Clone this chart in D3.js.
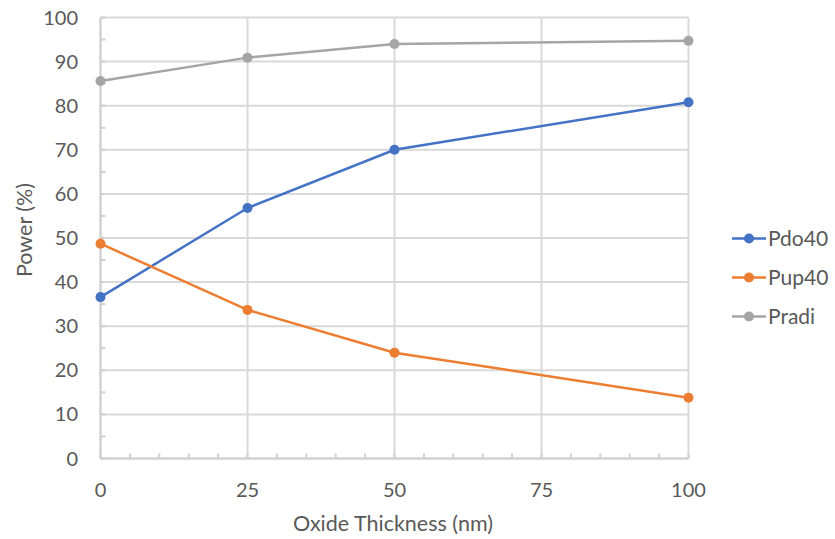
<!DOCTYPE html>
<html>
<head>
<meta charset="utf-8">
<script src="https://cdn.jsdelivr.net/npm/d3@7"></script>
<style>
  html, body { margin: 0; padding: 0; background: #fff; }
  svg { display: block; }
  text { font-family: Lato, "Open Sans", sans-serif; fill: #595959; }
</style>
</head>
<body>
<svg id="chart" width="835" height="539"></svg>
<script>
const thickness = [0, 25, 50, 100];
const pdo40 = [36.6, 56.8, 70, 80.8];
const pup40 = [48.7, 33.7, 24, 13.8];
const pradi = [85.6, 90.9, 94, 94.7];
const seriesNames = ["Pdo40", "Pup40", "Pradi"];
const seriesValues = [pdo40, pup40, pradi];
const seriesColors = ["#4472C4", "#ED7D31", "#A5A5A5"];
const xTicks = [0, 25, 50, 75, 100];
const yTicks = [0, 10, 20, 30, 40, 50, 60, 70, 80, 90, 100];
const xMinor = d3.range(0, 101, 5);
const yMinor = d3.range(0, 101, 5);

const svg = d3.select("#chart");
const pLeft = 100.5, pRight = 688.5, pTop = 17.5, pBottom = 458.5;
const x = d3.scaleLinear().domain([0, 100]).range([pLeft, pRight]);
const y = d3.scaleLinear().domain([0, 100]).range([pBottom, pTop]);
const gridColor = "#d9d9d9";

// gridlines
svg.append("g").selectAll("line").data(yTicks).join("line")
  .attr("x1", pLeft).attr("x2", pRight)
  .attr("y1", d => y(d)).attr("y2", d => y(d))
  .attr("stroke", gridColor).attr("stroke-width", 2);
svg.append("g").selectAll("line").data(xTicks).join("line")
  .attr("y1", pTop).attr("y2", pBottom)
  .attr("x1", d => x(d)).attr("x2", d => x(d))
  .attr("stroke", gridColor).attr("stroke-width", 2);

// minor ticks (inside)
svg.append("g").selectAll("line").data(xMinor).join("line")
  .attr("x1", d => x(d)).attr("x2", d => x(d))
  .attr("y1", pBottom).attr("y2", pBottom - 5)
  .attr("stroke", "#d0d0d0").attr("stroke-width", 2);
svg.append("g").selectAll("line").data(yMinor).join("line")
  .attr("y1", d => y(d)).attr("y2", d => y(d))
  .attr("x1", pLeft).attr("x2", pLeft + 5)
  .attr("stroke", "#d0d0d0").attr("stroke-width", 2);

// axes lines
svg.append("line").attr("x1", pLeft).attr("x2", pRight).attr("y1", pBottom).attr("y2", pBottom)
  .attr("stroke", "#d0d0d0").attr("stroke-width", 2);
svg.append("line").attr("x1", pLeft).attr("x2", pLeft).attr("y1", pTop).attr("y2", pBottom)
  .attr("stroke", "#d0d0d0").attr("stroke-width", 2);

// tick labels
svg.append("g").selectAll("text").data(yTicks).join("text")
  .attr("x", 78).attr("y", d => y(d)).attr("dy", "0.35em")
  .attr("text-anchor", "end").attr("font-size", 20).text(d => d);
svg.append("g").selectAll("text").data(xTicks).join("text")
  .attr("x", d => x(d)).attr("y", 490).attr("dy", "0.35em")
  .attr("text-anchor", "middle").attr("font-size", 20).text(d => d);

// axis titles
svg.append("text").attr("x", 393).attr("y", 523).attr("dy", "0.35em")
  .attr("text-anchor", "middle").attr("font-size", 21.5).text("Oxide Thickness (nm)");
svg.append("text").attr("transform", "translate(24,230) rotate(-90)").attr("dy", "0.35em")
  .attr("text-anchor", "middle").attr("font-size", 21.5).text("Power (%)");

// series
const line = d3.line().x((d, i) => x(thickness[i])).y(d => y(d));
seriesValues.forEach((vals, si) => {
  const g = svg.append("g");
  g.append("path").datum(vals).attr("d", line)
    .attr("fill", "none").attr("stroke", seriesColors[si]).attr("stroke-width", 2.5);
  g.selectAll("circle").data(vals).join("circle")
    .attr("cx", (d, i) => x(thickness[i])).attr("cy", d => y(d))
    .attr("r", 5).attr("fill", seriesColors[si]);
});

// legend
const legY = [238.5, 277.5, 316.5];
seriesNames.forEach((name, i) => {
  const g = svg.append("g");
  g.append("line").attr("x1", 732).attr("x2", 766).attr("y1", legY[i]).attr("y2", legY[i])
    .attr("stroke", seriesColors[i]).attr("stroke-width", 2.5);
  g.append("circle").attr("cx", 749).attr("cy", legY[i]).attr("r", 5).attr("fill", seriesColors[i]);
  g.append("text").attr("x", 768).attr("y", legY[i]).attr("dy", "0.35em")
    .attr("font-size", 21).text(name);
});
</script>
</body>
</html>
